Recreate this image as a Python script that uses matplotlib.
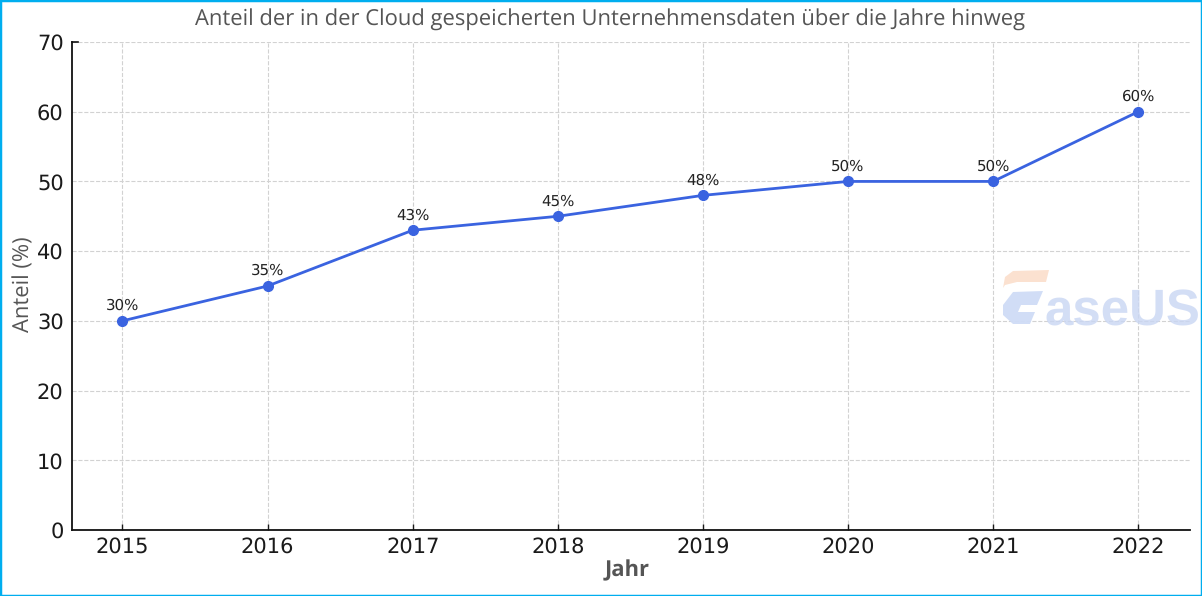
import matplotlib
matplotlib.use("Agg")
import matplotlib.pyplot as plt
from matplotlib.patches import Polygon, Rectangle

years = [2015, 2016, 2017, 2018, 2019, 2020, 2021, 2022]
share = [30, 35, 43, 45, 48, 50, 50, 60]
yticks = [0, 10, 20, 30, 40, 50, 60, 70]

W, H = 1202, 596

plt.rcParams["text.hinting"] = "no_hinting"
plt.rcParams["text.hinting_factor"] = 1

fig = plt.figure(figsize=(W / 100, H / 100), dpi=100)
ax = fig.add_axes([72 / W, 1 - 530 / H, (1190 - 72) / W, (530 - 42) / H])

ax.plot(years, share, color="#3a63e0", linewidth=2, marker="o", markersize=7, zorder=3)

for x, y in zip(years, share):
    ax.annotate(f"{y}%", (x, y), xytext=(0, 5.5), textcoords="offset points",
                ha="center", va="bottom", fontsize=10.5, color="#222222",
                family="DejaVu Sans")

ax.set_xlim(2014.652, 2022.357)
ax.set_ylim(0, 70)
ax.set_xticks(years)
ax.set_yticks(yticks)
ax.tick_params(labelsize=15, length=4, width=1, direction="in", colors="#1a1a1a", pad=5)
ax.tick_params(axis="y", direction="out", length=0, pad=6)
ax.grid(True, linestyle="--", color="#d2d2d2", linewidth=0.8)
ax.set_axisbelow(True)
for side in ["top", "right"]:
    ax.spines[side].set_visible(False)
for side in ["left", "bottom"]:
    ax.spines[side].set_linewidth(1.3)
    ax.spines[side].set_color("#111111")

# small top tick on the y axis
ax.plot([0, 0.005], [1, 1], transform=ax.transAxes, color="#111111", lw=1.2, clip_on=False)

fig.text(610.5 / W, 1 - 20 / H, "Anteil der in der Cloud gespeicherten Unternehmensdaten über die Jahre hinweg",
         ha="center", va="center", fontsize=16.2, color="#555555", family="Open Sans")
fig.text(627.5 / W, 1 - 570.5 / H, "Jahr", ha="center", va="center", fontsize=16,
         color="#555555", family="Open Sans", weight="bold")
fig.text(24 / W, 1 - 284 / H, "Anteil (%)", ha="center", va="center", rotation=90,
         fontsize=15.5, color="#555555", family="Open Sans")


# watermark, drawn in pixel coordinates of the figure
def px(points):
    return [(x / W, 1 - y / H) for x, y in points]


fig.add_artist(Polygon(px([(1003, 288), (1005, 277), (1013, 271), (1049, 270), (1046, 282), (1017, 282), (1005, 285)]),
                       closed=True, facecolor="#fbdcc8", edgecolor="none", alpha=0.85, transform=fig.transFigure))
fig.add_artist(Polygon(px([(1003, 305), (1013, 292), (1043, 291), (1037, 305), (1021, 305), (1018, 312),
                           (1035, 312), (1030, 324), (1013, 324), (1003, 315)]),
                       closed=True, facecolor="#cfdcf6", edgecolor="none", alpha=0.95, transform=fig.transFigure))
fig.text(1044 / W, 1 - 325 / H, "aseUS", ha="left", va="baseline", fontsize=37, weight="bold",
         color="#c9d6f3", alpha=0.8, family="Liberation Sans")

# thin blue frame around the picture
fig.add_artist(Rectangle((0, 0), 1, 1, transform=fig.transFigure, fill=False, edgecolor="#00aeef", linewidth=2.5))

fig.savefig("out.png", dpi=100)
